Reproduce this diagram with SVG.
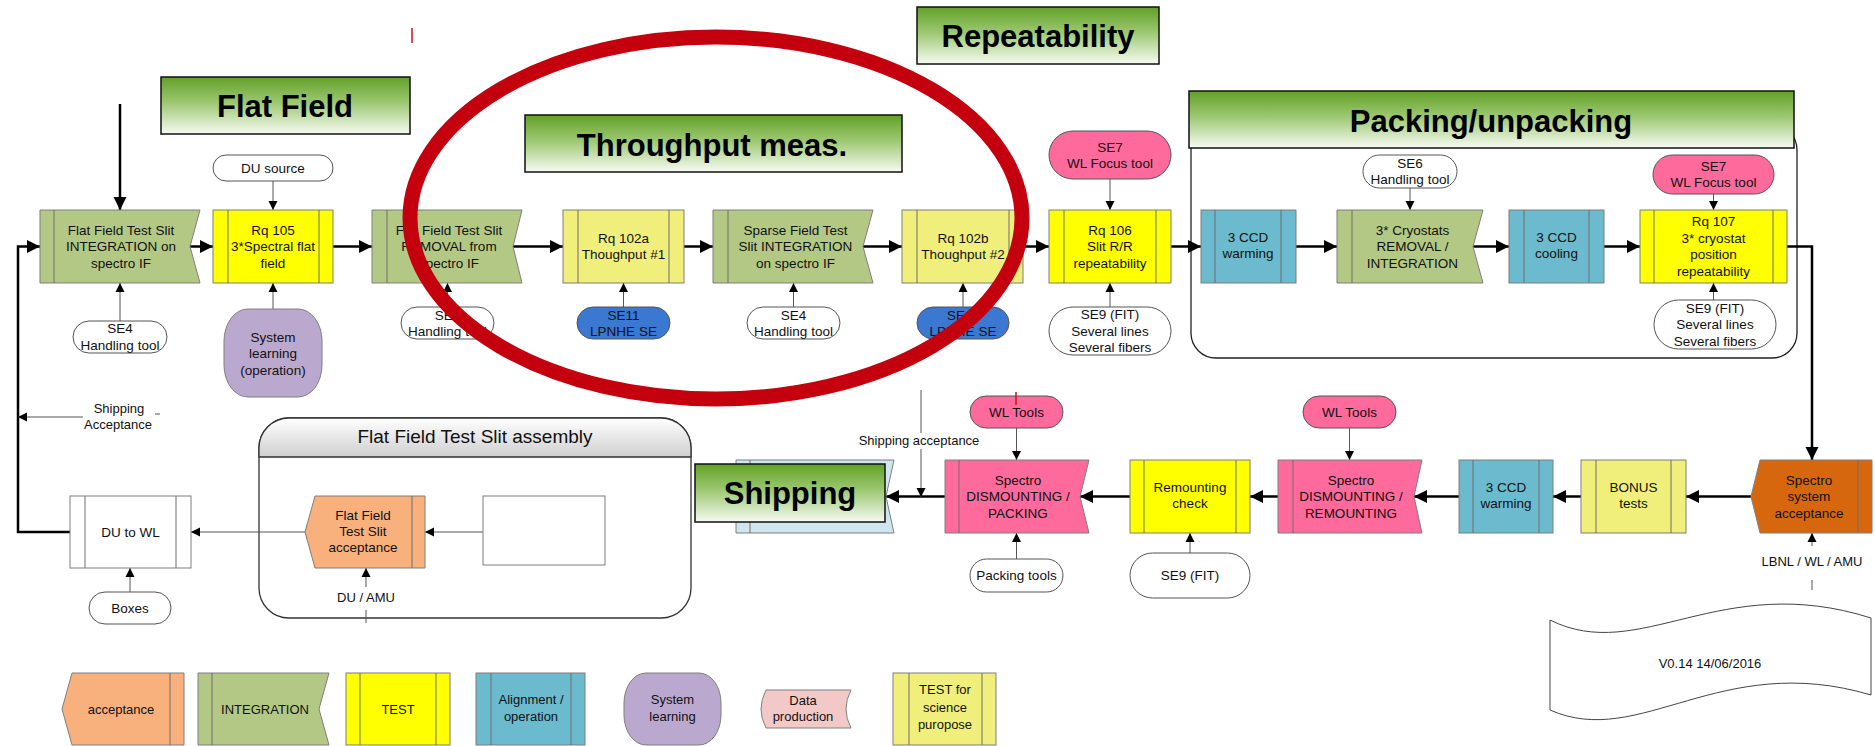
<svg xmlns="http://www.w3.org/2000/svg" width="1875" height="746" viewBox="0 0 1875 746">
<defs>
<linearGradient id="tg" x1="0" y1="0" x2="0" y2="1"><stop offset="0" stop-color="#62A028"/><stop offset="0.45" stop-color="#9DC872"/><stop offset="1" stop-color="#F7FBF3"/></linearGradient>
<linearGradient id="hg" x1="0" y1="0" x2="0" y2="1"><stop offset="0" stop-color="#FFFFFF"/><stop offset="1" stop-color="#CFCFCF"/></linearGradient>
<marker id="ah" markerUnits="userSpaceOnUse" markerWidth="14" markerHeight="14" viewBox="0 0 14 14" refX="13" refY="7" orient="auto"><path d="M0,0.5 L13,7 L0,13.5 Z" fill="#000"/></marker>
<marker id="as" markerUnits="userSpaceOnUse" markerWidth="10" markerHeight="10" viewBox="0 0 10 10" refX="9" refY="5" orient="auto"><path d="M0,0.5 L9,5 L0,9.5 Z" fill="#000"/></marker>
</defs>
<style>
text{font-family:"Liberation Sans",Arial,sans-serif;fill:#111;text-anchor:middle}
.t{font-size:13.5px}
.s{font-size:13px}
.lg{font-size:13px}
.ttl{font-size:31px;font-weight:bold;fill:#000}
.tb{fill:url(#tg);stroke:#111;stroke-width:1.5}
.sh{stroke:#7F7F7F;stroke-width:1}
.il{stroke:#6F6F6F;stroke-width:1;fill:none}
.pill{fill:#fff;stroke:#555;stroke-width:1}
.grn{fill:#B3C885}.yel{fill:#FFFF00}.ly{fill:#F0EF7C}.blu{fill:#6CBACD}.pnk{fill:#FD6A9B}.dor{fill:#D7670F}.lor{fill:#F8B07C}.pur{fill:#BBA8CE}.se11{fill:#3A78D2}.shb{fill:#D0E6EE}.wht{fill:#fff}
.thick{stroke:#000;stroke-width:2.5;fill:none;marker-end:url(#ah)}
.thin{stroke:#555;stroke-width:1;fill:none;marker-end:url(#as)}
.pl{stroke:#555;stroke-width:1;fill:none}
</style>
<rect width="1875" height="746" fill="#fff"/>

<!-- containers -->
<g id="packing-container"><rect x="1191" y="125" width="606" height="233" rx="25" fill="#fff" stroke="#222" stroke-width="1.3"/></g>
<g id="assembly-container">
<rect x="259" y="418" width="432" height="200" rx="30" fill="#fff" stroke="#333" stroke-width="1.3"/>
<path d="M259,457 V448 A30,30 0 0 1 289,418 H661 A30,30 0 0 1 691,448 V457 Z" fill="url(#hg)" stroke="#333" stroke-width="1.3"/>
<text x="475" y="443" style="font-size:19px">Flat Field Test Slit assembly</text>
</g>

<!-- titles -->
<g id="title-flat-field"><rect class="tb" x="161" y="77" width="249" height="57"/><text class="ttl" x="285" y="117">Flat Field</text></g>
<g id="title-throughput"><rect class="tb" x="525" y="115" width="377" height="57"/><text class="ttl" x="712" y="156">Throughput meas.</text></g>
<g id="title-repeatability"><rect class="tb" x="917" y="7" width="242" height="57"/><text class="ttl" x="1038" y="47">Repeatability</text></g>
<g id="title-packing"><rect class="tb" x="1189" y="91" width="605" height="57"/><text class="ttl" x="1491" y="132">Packing/unpacking</text></g>

<!-- connectors -->
<g id="connectors">
<path class="thick" d="M120,104 V210"/>
<path class="thick" d="M190,246.5 H213"/>
<path class="thick" d="M333,246.5 H372"/>
<path class="thick" d="M513,246.5 H563"/>
<path class="thick" d="M684,246.5 H713"/>
<path class="thick" d="M863,246.5 H902"/>
<path class="thick" d="M1023,246.5 H1049"/>
<path class="thick" d="M1171,246.5 H1201"/>
<path class="thick" d="M1296,246.5 H1337"/>
<path class="thick" d="M1473,246.5 H1509"/>
<path class="thick" d="M1604,246.5 H1640"/>
<path class="thick" d="M1787,246.5 H1812 V460"/>
<path class="thick" d="M1751,496.5 H1686"/>
<path class="thick" d="M1581,496.5 H1553"/>
<path class="thick" d="M1459,496.5 H1414"/>
<path class="thick" d="M1278,496.5 H1250"/>
<path class="thick" d="M1130,496.5 H1080"/>
<path class="thick" d="M945,496.5 H886"/>
<path class="thick" d="M70,532 H18 V246.5 H40"/>

<path class="thin" d="M273,181 V210"/>
<path class="thin" d="M120,321 V283"/>
<path class="thin" d="M273,309 V283"/>
<path class="thin" d="M447.5,307 V283"/>
<path class="thin" d="M623.5,307 V283"/>
<path class="thin" d="M793.5,307 V283"/>
<path class="thin" d="M963,307 V283"/>
<path class="thin" d="M1110,179 V210"/>
<path class="thin" d="M1110,307 V283"/>
<path class="thin" d="M1410,188 V210"/>
<path class="thin" d="M1713.5,194 V210"/>
<path class="thin" d="M1713.5,300 V283"/>
<path class="thin" d="M1016.5,428 V460"/>
<path class="thin" d="M1016.5,559 V533"/>
<path class="thin" d="M1190,553 V533"/>
<path class="thin" d="M1349.5,428 V460"/>
<path class="pl" d="M1812,590 V580"/>
<path class="thin" d="M1812,546 V533"/>
<path class="pl" d="M921,390 V433"/>
<path class="thin" d="M921,449 V497"/>
<path class="thin" d="M83,417 H18"/>
<path class="pl" d="M155,414 H160"/>
<path class="thin" d="M305,532 H191"/>
<path class="thin" d="M483,532 H425"/>
<path class="pl" d="M366,623 V610"/>
<path class="thin" d="M366,587 V568"/>
<path class="thin" d="M130,592 V568"/>
<text class="s" x="119" y="413">Shipping</text>
<text class="s" x="118" y="429">Acceptance</text>
<text class="s" x="919" y="445">Shipping acceptance</text>
<text class="s" x="1812" y="566">LBNL / WL / AMU</text>
<text class="s" x="366" y="602">DU / AMU</text>
</g>

<!-- top row nodes -->
<g id="n-ff-integration"><path class="sh grn" d="M40,210 H200 L190,246.5 L200,283 H40 Z"/><path class="il" d="M54,210 V283"/><text class="t" x="121" y="235">Flat Field Test Slit<tspan x="121" dy="16.3">INTEGRATION on</tspan><tspan x="121" dy="16.3">spectro IF</tspan></text></g>
<g id="n-rq105"><rect class="sh yel" x="213" y="210" width="120" height="73"/><path class="il" d="M228,210 V283 M319,210 V283"/><text class="t" x="273" y="235">Rq 105<tspan x="273" dy="16.3">3*Spectral flat</tspan><tspan x="273" dy="16.3">field</tspan></text></g>
<g id="n-ff-removal"><path class="sh grn" d="M372,210 H522 L513,246.5 L522,283 H372 Z"/><path class="il" d="M387,210 V283"/><text class="t" x="449" y="235">Flat Field Test Slit<tspan x="449" dy="16.3">REMOVAL from</tspan><tspan x="449" dy="16.3">spectro IF</tspan></text></g>
<g id="n-rq102a"><rect class="sh ly" x="563" y="210" width="121" height="73"/><path class="il" d="M578,210 V283 M669,210 V283"/><text class="t" x="623.5" y="243">Rq 102a<tspan x="623.5" dy="16.3">Thoughput #1</tspan></text></g>
<g id="n-sparse"><path class="sh grn" d="M713,210 H873 L863,246.5 L873,283 H713 Z"/><path class="il" d="M728,210 V283"/><text class="t" x="795.5" y="235">Sparse Field Test<tspan x="795.5" dy="16.3">Slit  INTEGRATION</tspan><tspan x="795.5" dy="16.3">on spectro IF</tspan></text></g>
<g id="n-rq102b"><rect class="sh ly" x="902" y="210" width="121" height="73"/><path class="il" d="M917,210 V283 M1009,210 V283"/><text class="t" x="963" y="243">Rq 102b<tspan x="963" dy="16.3">Thoughput #2</tspan></text></g>
<g id="n-rq106"><rect class="sh yel" x="1049" y="210" width="122" height="73"/><path class="il" d="M1064,210 V283 M1156,210 V283"/><text class="t" x="1110" y="235">Rq 106<tspan x="1110" dy="16.3">Slit R/R</tspan><tspan x="1110" dy="16.3">repeatability</tspan></text></g>
<g id="n-ccd-warming"><rect class="sh blu" x="1201" y="210" width="95" height="73"/><path class="il" d="M1215,210 V283 M1281,210 V283"/><text class="t" x="1248" y="242">3 CCD<tspan x="1248" dy="16.3">warming</tspan></text></g>
<g id="n-cryostats"><path class="sh grn" d="M1337,210 H1483 L1473,246.5 L1483,283 H1337 Z"/><path class="il" d="M1352,210 V283"/><text class="t" x="1412.5" y="235">3* Cryostats<tspan x="1412.5" dy="16.3">REMOVAL /</tspan><tspan x="1412.5" dy="16.3">INTEGRATION</tspan></text></g>
<g id="n-ccd-cooling"><rect class="sh blu" x="1509" y="210" width="95" height="73"/><path class="il" d="M1524,210 V283 M1589,210 V283"/><text class="t" x="1556.5" y="242">3 CCD<tspan x="1556.5" dy="16.3">cooling</tspan></text></g>
<g id="n-rq107"><rect class="sh yel" x="1640" y="210" width="147" height="73"/><path class="il" d="M1654,210 V283 M1773,210 V283"/><text class="t" x="1713.5" y="226">Rq 107<tspan x="1713.5" dy="16.5">3* cryostat</tspan><tspan x="1713.5" dy="16.5">position</tspan><tspan x="1713.5" dy="16.5">repeatability</tspan></text></g>

<!-- top pills -->
<g id="p-du-source"><rect class="pill" x="213" y="155" width="120" height="26" rx="13"/><text class="t" x="273" y="173">DU source</text></g>
<g id="p-se7-a"><rect class="pill pnk" x="1049" y="131" width="122" height="48" rx="24"/><text class="t" x="1110" y="152">SE7<tspan x="1110" dy="16.3">WL Focus tool</tspan></text></g>
<g id="p-se6"><rect class="pill" x="1363" y="155" width="94" height="33" rx="16.5"/><text class="t" x="1410" y="168">SE6<tspan x="1410" dy="16.3">Handling tool</tspan></text></g>
<g id="p-se7-b"><rect class="pill pnk" x="1653" y="155" width="121" height="39" rx="19.5"/><text class="t" x="1713.5" y="171">SE7<tspan x="1713.5" dy="16.3">WL Focus tool</tspan></text></g>

<!-- bottom pills of top row -->
<g id="p-se4-a"><rect class="pill" x="73" y="321" width="94" height="32" rx="16"/><text class="t" x="120" y="333">SE4<tspan x="120" dy="16.5">Handling tool</tspan></text></g>
<g id="p-system-learning"><rect class="sh pur" x="224" y="309" width="98" height="88" rx="24" ry="32"/><text class="t" x="273" y="342">System<tspan x="273" dy="16.3">learning</tspan><tspan x="273" dy="16.3">(operation)</tspan></text></g>
<g id="p-se4-b"><rect class="pill" x="401" y="307" width="93" height="32" rx="16"/><text class="t" x="447.5" y="320">SE4<tspan x="447.5" dy="16.3">Handling tool</tspan></text></g>
<g id="p-se11-a"><rect class="pill se11" x="577" y="307" width="93" height="32" rx="16"/><text class="t" x="623.5" y="320">SE11<tspan x="623.5" dy="16.3">LPNHE SE</tspan></text></g>
<g id="p-se4-c"><rect class="pill" x="747" y="307" width="93" height="32" rx="16"/><text class="t" x="793.5" y="320">SE4<tspan x="793.5" dy="16.3">Handling tool</tspan></text></g>
<g id="p-se11-b"><rect class="pill se11" x="917" y="307" width="92" height="32" rx="16"/><text class="t" x="963" y="320">SE11<tspan x="963" dy="16.3">LPNHE SE</tspan></text></g>
<g id="p-se9-a"><rect class="pill" x="1049" y="307" width="122" height="48" rx="24"/><text class="t" x="1110" y="319">SE9 (FIT)<tspan x="1110" dy="16.5">Several lines</tspan><tspan x="1110" dy="16.5">Several fibers</tspan></text></g>
<g id="p-se9-b"><rect class="pill" x="1654" y="300" width="122" height="49" rx="24.5"/><text class="t" x="1715" y="313">SE9 (FIT)<tspan x="1715" dy="16.3">Several lines</tspan><tspan x="1715" dy="16.3">Several fibers</tspan></text></g>

<!-- bottom row -->
<g id="n-spectro-acceptance"><path class="sh dor" d="M1751,496.5 L1760,460 H1872 V533 H1760 Z"/><path class="il" d="M1858,460 V533"/><text class="t" x="1809" y="485">Spectro<tspan x="1809" dy="16.3">system</tspan><tspan x="1809" dy="16.3">acceptance</tspan></text></g>
<g id="n-bonus"><rect class="sh ly" x="1581" y="460" width="105" height="73"/><path class="il" d="M1596,460 V533 M1671,460 V533"/><text class="t" x="1633.5" y="492">BONUS<tspan x="1633.5" dy="16.3">tests</tspan></text></g>
<g id="n-ccd-warming-2"><rect class="sh blu" x="1459" y="460" width="94" height="73"/><path class="il" d="M1473,460 V533 M1539,460 V533"/><text class="t" x="1506" y="492">3 CCD<tspan x="1506" dy="16.3">warming</tspan></text></g>
<g id="n-dismount-remount"><path class="sh pnk" d="M1278,460 H1422 L1414,496.5 L1422,533 H1278 Z"/><path class="il" d="M1293,460 V533"/><text class="t" x="1351" y="485">Spectro<tspan x="1351" dy="16.3">DISMOUNTING /</tspan><tspan x="1351" dy="16.3">REMOUNTING</tspan></text></g>
<g id="n-remounting-check"><rect class="sh yel" x="1130" y="460" width="120" height="73"/><path class="il" d="M1144,460 V533 M1236,460 V533"/><text class="t" x="1190" y="492">Remounting<tspan x="1190" dy="16.3">check</tspan></text></g>
<g id="n-dismount-packing"><path class="sh pnk" d="M945,460 H1089 L1080,496.5 L1089,533 H945 Z"/><path class="il" d="M959,460 V533"/><text class="t" x="1018" y="485">Spectro<tspan x="1018" dy="16.3">DISMOUNTING /</tspan><tspan x="1018" dy="16.3">PACKING</tspan></text></g>
<g id="n-shipping"><path class="sh shb" d="M736,460 H894 L886,496.5 L894,533 H736 Z"/><path class="il" d="M750,460 V533"/><rect class="tb" x="695" y="464" width="190" height="58"/><text class="ttl" x="790" y="504">Shipping</text></g>
<g id="p-wl-tools-a"><rect class="pill pnk" x="970" y="396" width="93" height="32" rx="16"/><text class="t" x="1016.5" y="417">WL Tools</text></g>
<g id="p-wl-tools-b"><rect class="pill pnk" x="1303" y="396" width="93" height="32" rx="16"/><text class="t" x="1349.5" y="417">WL Tools</text></g>
<g id="p-packing-tools"><rect class="pill" x="970" y="559" width="93" height="33" rx="16.5"/><text class="t" x="1016.5" y="580">Packing tools</text></g>
<g id="p-se9-fit"><rect class="pill" x="1130" y="553" width="120" height="45" rx="22.5"/><text class="t" x="1190" y="580">SE9 (FIT)</text></g>

<!-- lower left -->
<g id="n-du-to-wl"><rect class="sh wht" x="70" y="496" width="121" height="72"/><path class="il" d="M85,496 V568 M176,496 V568"/><text class="t" x="130.5" y="537">DU to WL</text></g>
<g id="p-boxes"><rect class="pill" x="89" y="592" width="82" height="32" rx="16"/><text class="t" x="130" y="613">Boxes</text></g>
<g id="n-ff-acceptance"><path class="sh lor" d="M305,532 L315,496 H425 V568 H315 Z"/><path class="il" d="M412,496 V568"/><text class="t" x="363" y="520">Flat Field<tspan x="363" dy="16">Test Slit</tspan><tspan x="363" dy="16">acceptance</tspan></text></g>
<g id="n-blank"><rect class="sh wht" x="483" y="496" width="122" height="69"/></g>

<!-- version document -->
<g id="doc-version"><path d="M1550,620 C1640,665 1720,570 1871,618 L1871,695 C1720,650 1640,750 1550,710 Z" fill="#fff" stroke="#444" stroke-width="1"/><text class="s" x="1710" y="668">V0.14 14/06/2016</text></g>

<!-- legend -->
<g id="legend">
<path class="sh lor" d="M62,709 L72,673 H184 V745 H72 Z"/><path class="il" d="M170,673 V745"/><text class="lg" x="121" y="714">acceptance</text>
<path class="sh grn" d="M198,673 H329 L319,709 L329,745 H198 Z"/><path class="il" d="M212,673 V745"/><text class="lg" x="265" y="714">INTEGRATION</text>
<rect class="sh yel" x="346" y="673" width="104" height="72"/><path class="il" d="M360,673 V745 M436,673 V745"/><text class="lg" x="398" y="714">TEST</text>
<rect class="sh blu" x="476" y="673" width="109" height="72"/><path class="il" d="M491,673 V745 M571,673 V745"/><text class="lg" x="531" y="704">Alignment /<tspan x="531" dy="17">operation</tspan></text>
<rect class="sh pur" x="624" y="673" width="97" height="72" rx="22" ry="30"/><text class="lg" x="672.5" y="704">System<tspan x="672.5" dy="17">learning</tspan></text>
<path class="sh" fill="#F2C9C6" d="M766,690 H851 Q841,709 851,728 H766 Q756,709 766,690 Z"/><text class="lg" x="803" y="705">Data<tspan x="803" dy="16">production</tspan></text>
<rect class="sh ly" x="893" y="673" width="103" height="72"/><path class="il" d="M909,673 V745 M982,673 V745"/><text class="lg" x="945" y="694">TEST for<tspan x="945" dy="18">science</tspan><tspan x="945" dy="17">puropose</tspan></text>
</g>

<!-- annotation marks -->
<g id="annotation">
<ellipse cx="716" cy="218" rx="306" ry="181" fill="none" stroke="#C4000E" stroke-width="15"/>
<path d="M412,28 V43 M1016,392 V405" stroke="#D0101A" stroke-width="1.5"/>
</g>
</svg>
